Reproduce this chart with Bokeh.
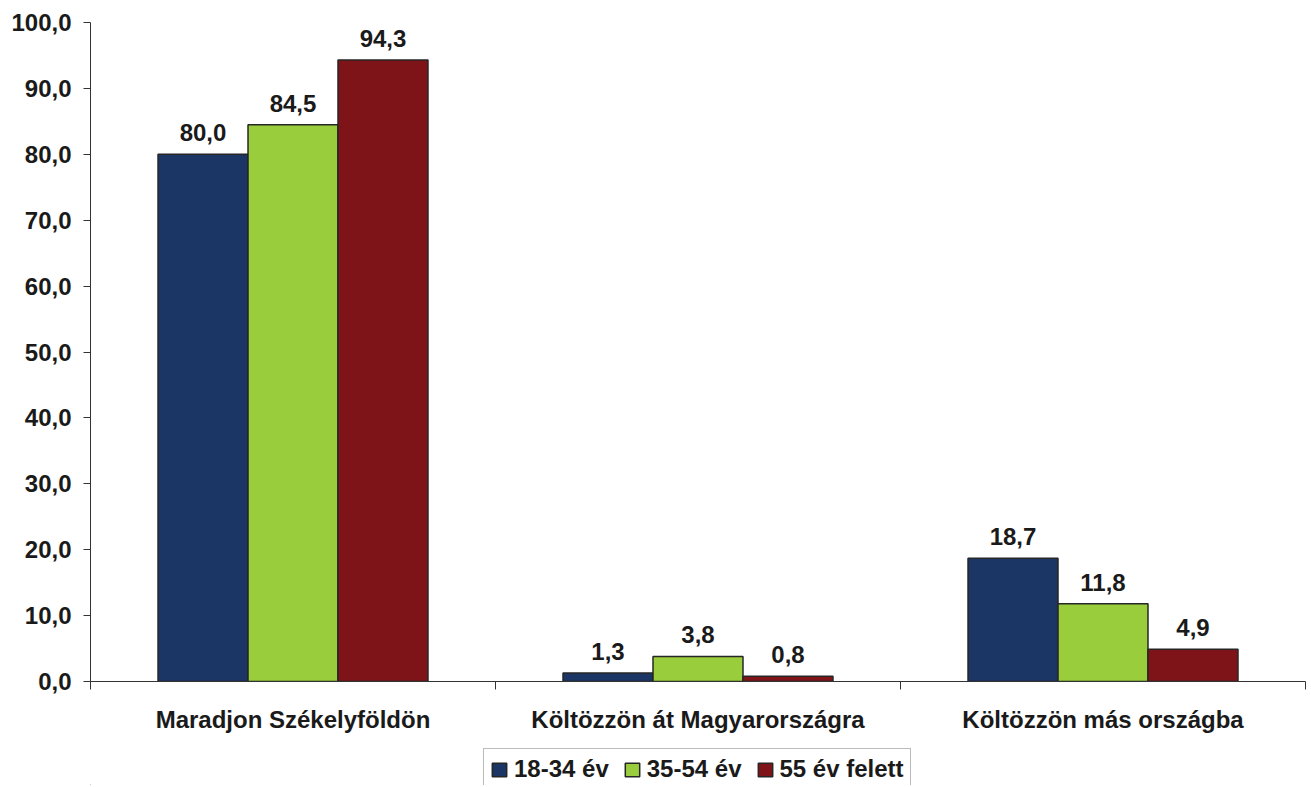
from bokeh.plotting import figure
from bokeh.layouts import column
from bokeh.models import Range1d, FixedTicker, Legend, LegendItem, ColumnDataSource
from bokeh.core.properties import value
from bokeh.embed import file_html
from bokeh.resources import INLINE

categories = ["Maradjon Székelyföldön", "Költözzön át Magyarországra", "Költözzön más országba"]
series_names = ["18-34 év", "35-54 év", "55 év felett"]
s1 = [80.0, 1.3, 18.7]
s2 = [84.5, 3.8, 11.8]
s3 = [94.3, 0.8, 4.9]
colors = ["#1B3564", "#9ACD3C", "#7F1418"]
y_ticks = [0, 10, 20, 30, 40, 50, 60, 70, 80, 90, 100]

FONT = "Liberation Sans"
FS = "24px"

p = figure(width=1309, height=745, output_backend="svg", toolbar_location=None,
           x_range=Range1d(0, 3), y_range=Range1d(0, 100),
           min_border_left=90, min_border_top=22, min_border_right=4, min_border_bottom=64)
p.outline_line_color = None
p.xgrid.grid_line_color = None
p.ygrid.grid_line_color = None
p.background_fill_color = "white"
p.border_fill_color = "white"

centers = [i + 0.5 for i in range(len(categories))]
bw = 0.2222
offsets = [-bw, 0.0, bw]
for vals, off, col in zip([s1, s2, s3], offsets, colors):
    xs = [c + off for c in centers]
    src = ColumnDataSource(dict(x=xs, top=vals, lab=[f"{v:.1f}".replace(".", ",") for v in vals]))
    p.vbar(x="x", top="top", width=bw, source=src, fill_color=col,
           line_color="#262626", line_width=1.5)
    p.text(x="x", y="top", text="lab", source=src, text_align="center", text_baseline="bottom",
           y_offset=-13, text_font=value(FONT), text_font_style="bold",
           text_font_size=FS, text_color="#1a1a1a")

# y axis
yax = p.yaxis[0]
yax.ticker = FixedTicker(ticks=y_ticks, minor_ticks=[])
yax.major_label_overrides = {t: f"{t:.1f}".replace(".", ",") for t in y_ticks}
yax.major_label_text_font = FONT
yax.major_label_text_font_style = "bold"
yax.major_label_text_font_size = FS
yax.major_label_text_color = "#1a1a1a"
yax.major_tick_out = 7
yax.major_tick_in = 0
yax.minor_tick_out = 0
yax.minor_tick_in = 0
yax.axis_line_color = "#333333"
yax.major_tick_line_color = "#333333"
yax.major_label_standoff = 12

# x axis: labels at centers, tick marks at boundaries (minor ticks)
xax = p.xaxis[0]
xax.ticker = FixedTicker(ticks=centers, minor_ticks=[0, 1, 2, 3])
xax.major_label_overrides = {c: n for c, n in zip(centers, categories)}
xax.major_label_text_font = FONT
xax.major_label_text_font_style = "bold"
xax.major_label_text_font_size = FS
xax.major_label_text_color = "#1a1a1a"
xax.major_tick_out = 0
xax.major_tick_in = 0
xax.minor_tick_out = 8
xax.minor_tick_in = 0
xax.minor_tick_line_color = "#333333"
xax.axis_line_color = "#333333"
xax.major_label_standoff = 16

# legend strip below the chart
lf = figure(width=1309, height=40, output_backend="svg", toolbar_location=None,
            x_range=Range1d(0, 1), y_range=Range1d(0, 1),
            x_axis_location=None, y_axis_location=None,
            min_border_left=0, min_border_right=0, min_border_top=0, min_border_bottom=0)
lf.outline_line_color = None
lf.xgrid.grid_line_color = None
lf.ygrid.grid_line_color = None
items = []
for col, name in zip(colors, series_names):
    r = lf.vbar(x=[-5], top=[-5], width=0.1, fill_color=col, line_color="#262626", line_width=1.5)
    items.append(LegendItem(label=name, renderers=[r]))

legend = Legend(items=items, orientation="horizontal", location=(393, -5))
legend.label_text_font = FONT
legend.label_text_font_style = "bold"
legend.label_text_font_size = "24px"
legend.label_text_color = "#1a1a1a"
legend.glyph_width = 18
legend.glyph_height = 17
legend.label_standoff = 6
legend.spacing = 14
legend.padding = 6
legend.margin = 0
legend.border_line_color = "#777777"
legend.border_line_width = 1
legend.background_fill_alpha = 1
lf.add_layout(legend, "center")

layout = column(p, lf, spacing=0)
open("out.html", "w").write(file_html(layout, INLINE))
